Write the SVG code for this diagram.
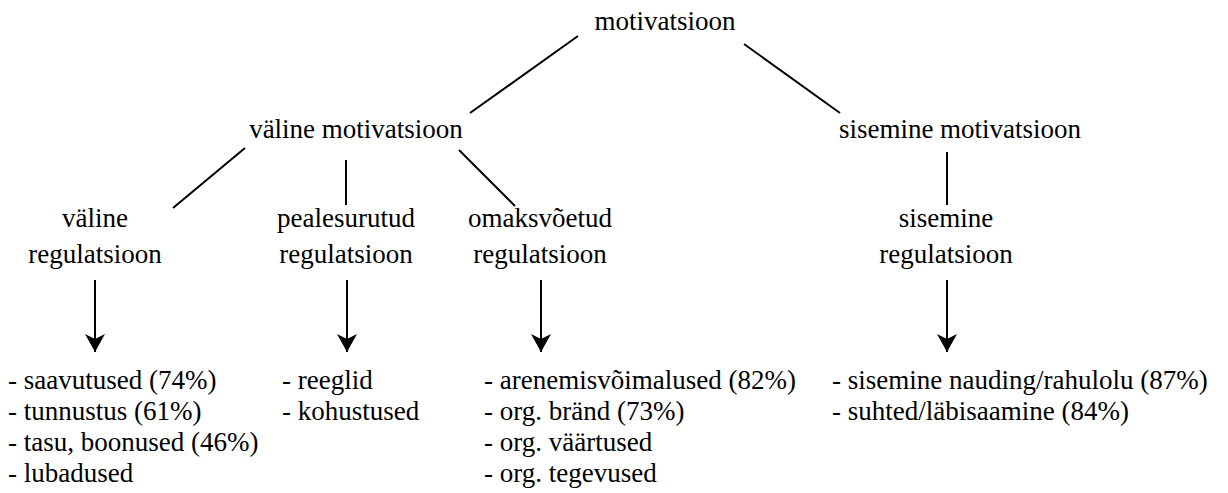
<svg xmlns="http://www.w3.org/2000/svg" width="1228" height="493" viewBox="0 0 1228 493">
  <style>
    .c { text-anchor: middle; }
    .ln { stroke: #000; stroke-width: 2; fill: none; }
  </style>
  <defs>
    <marker id="arrow" viewBox="0 0 20 20" refX="18" refY="10" markerWidth="20" markerHeight="20" markerUnits="userSpaceOnUse" orient="auto">
      <path d="M0,0 L18,10 L0,20 L5,10 z" fill="#000"/>
    </marker>
  </defs>
  <rect width="1228" height="493" fill="#fff"/>

  <g id="connectors">
    <line class="ln" x1="578" y1="36" x2="470" y2="113"/>
    <line class="ln" x1="744" y1="44" x2="840" y2="113"/>
    <line class="ln" x1="245" y1="148" x2="173" y2="208"/>
    <line class="ln" x1="346" y1="160" x2="346" y2="205"/>
    <line class="ln" x1="459" y1="150" x2="515" y2="206"/>
    <line class="ln" x1="947" y1="152" x2="947" y2="205"/>
    <line class="ln" x1="95" y1="280" x2="95" y2="352" marker-end="url(#arrow)"/>
    <line class="ln" x1="347" y1="280" x2="347" y2="352" marker-end="url(#arrow)"/>
    <line class="ln" x1="541" y1="280" x2="541" y2="352" marker-end="url(#arrow)"/>
    <line class="ln" x1="947" y1="280" x2="947" y2="352" marker-end="url(#arrow)"/>
  </g>

  <g font-family="Liberation Serif, Times New Roman, Tinos, DejaVu Serif, Noto Serif, FreeSerif, serif" font-size="27" fill="#000">
  <g id="motivatsioon">
    <text class="c" x="665" y="30">motivatsioon</text>
  </g>
  <g id="valine-motivatsioon">
    <text class="c" x="356" y="138">väline motivatsioon</text>
  </g>
  <g id="sisemine-motivatsioon">
    <text class="c" x="960" y="138">sisemine motivatsioon</text>
  </g>

  <g id="valine-regulatsioon">
    <text class="c" x="95" y="227">väline</text>
    <text class="c" x="95" y="263">regulatsioon</text>
  </g>
  <g id="pealesurutud-regulatsioon">
    <text class="c" x="346" y="227">pealesurutud</text>
    <text class="c" x="346" y="263">regulatsioon</text>
  </g>
  <g id="omaksvoetud-regulatsioon">
    <text class="c" x="540" y="227">omaksvõetud</text>
    <text class="c" x="540" y="263">regulatsioon</text>
  </g>
  <g id="sisemine-regulatsioon">
    <text class="c" x="946" y="227">sisemine</text>
    <text class="c" x="946" y="263">regulatsioon</text>
  </g>

  <g id="valine-list">
    <text x="8" y="389">- saavutused (74%)</text>
    <text x="8" y="420">- tunnustus (61%)</text>
    <text x="8" y="451">- tasu, boonused (46%)</text>
    <text x="8" y="482">- lubadused</text>
  </g>
  <g id="pealesurutud-list">
    <text x="282" y="389">- reeglid</text>
    <text x="282" y="420">- kohustused</text>
  </g>
  <g id="omaksvoetud-list">
    <text x="484" y="389">- arenemisvõimalused (82%)</text>
    <text x="484" y="420">- org. bränd (73%)</text>
    <text x="484" y="451">- org. väärtused</text>
    <text x="484" y="482">- org. tegevused</text>
  </g>
  <g id="sisemine-list">
    <text x="832" y="389">- sisemine nauding/rahulolu (87%)</text>
    <text x="832" y="420">- suhted/läbisaamine (84%)</text>
  </g>
  </g>
</svg>
